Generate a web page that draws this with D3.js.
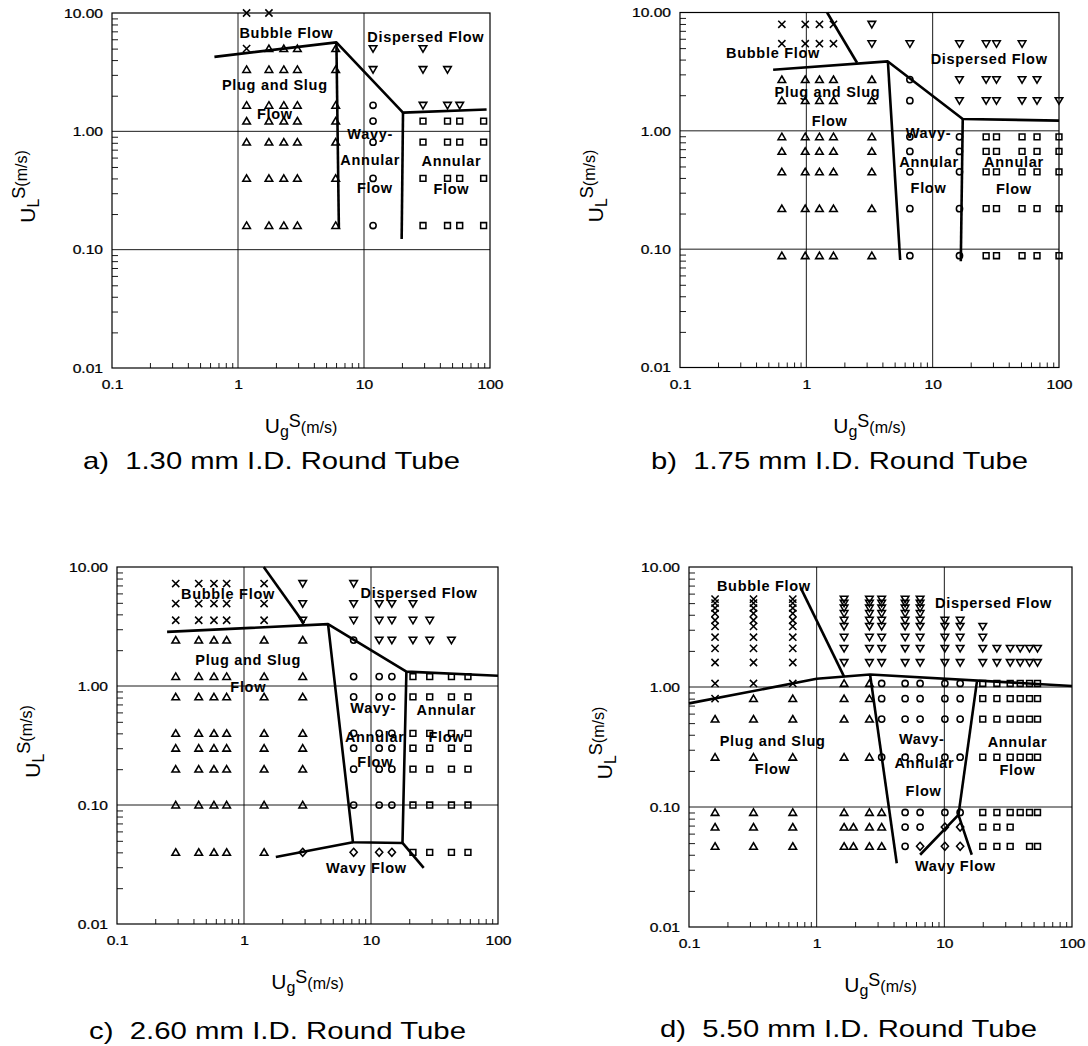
<!DOCTYPE html>
<html>
<head>
<meta charset="utf-8">
<script src="https://cdn.jsdelivr.net/npm/d3@7"></script>
<style>
  body { margin: 0; background: #fff; }
  svg { display: block; font-family: "Liberation Sans", Arial, Helvetica, sans-serif; }
</style>
</head>
<body>
<svg id="chart" width="1088" height="1046"></svg>
<script>
"use strict";

// ticks shared by the four maps
const xMajor = [0.1, 1, 10, 100];
const xTickLabels = ["0.1", "1", "10", "100"];
const yMajor = [0.01, 0.1, 1, 10];
const yTickLabels = ["0.01", "0.10", "1.00", "10.00"];
const captions = [
    "a)  1.30 mm I.D. Round Tube",
    "b)  1.75 mm I.D. Round Tube",
    "c)  2.60 mm I.D. Round Tube",
    "d)  5.50 mm I.D. Round Tube"
];

// observations: each row is [UL, [UG, UG, ...]]  (m/s)
// a) 1.30 mm
const aBubble = [[10, [1.17, 1.76]], [5.0, [1.17]]];
const aPlug = [
    [5.0, [1.76, 2.31, 2.96, 5.96]],
    [3.33, [1.17, 1.76, 2.31, 2.96, 5.96]],
    [1.66, [1.17, 1.76, 2.31, 2.96, 5.96]],
    [1.22, [1.17, 1.76, 2.31, 2.96, 5.96]],
    [0.81, [1.17, 1.76, 2.31, 2.96, 5.96]],
    [0.40, [1.17, 1.76, 2.31, 2.96, 5.96]],
    [0.16, [1.17, 1.76, 2.31, 2.96, 5.96]]
];
const aDispersed = [[5.0, [11.8, 29.4]], [3.33, [11.8, 29.4, 46]], [1.66, [29.4, 46, 57.5]]];
const aWavyAnnular = [[1.66, [11.8]], [1.22, [11.8]], [0.81, [11.8]], [0.40, [11.8]], [0.16, [11.8]]];
const aAnnular = [
    [1.22, [29.4, 46, 57.5, 89]],
    [0.81, [29.4, 46, 57.5, 89]],
    [0.40, [29.4, 46, 57.5, 89]],
    [0.16, [29.4, 46, 57.5, 89]]
];
const aLines = [
    [[0.65, 4.26], [6.04, 5.65], [20.4, 1.44], [94, 1.53]],
    [[6.04, 5.65], [6.32, 0.15]],
    [[20.4, 1.44], [19.9, 0.123]]
];

// b) 1.75 mm
const bBubble = [[7.95, [0.64, 0.98, 1.27, 1.64]], [5.45, [0.64, 0.98, 1.27, 1.64]]];
const bPlug = [
    [2.71, [0.64, 0.98, 1.27, 1.64, 3.3]],
    [1.80, [0.64, 0.98, 1.27, 1.64, 3.3]],
    [0.89, [0.64, 0.98, 1.27, 1.64, 3.3]],
    [0.67, [0.64, 0.98, 1.27, 1.64, 3.3]],
    [0.45, [0.64, 0.98, 1.27, 1.64, 3.3]],
    [0.22, [0.64, 0.98, 1.27, 1.64, 3.3]],
    [0.088, [0.64, 0.98, 1.27, 1.64, 3.3]]
];
const bDispersed = [
    [7.95, [3.3]],
    [5.45, [3.3, 6.6, 16.3, 26.5, 32, 51]],
    [2.71, [16.3, 26.5, 32, 51, 67]],
    [1.80, [16.3, 26.5, 32, 51, 67, 100]]
];
const bWavyAnnular = [
    [2.71, [6.6]], [1.80, [6.6]],
    [0.89, [6.6, 16.3]], [0.67, [6.6, 16.3]], [0.45, [6.6, 16.3]],
    [0.22, [6.6, 16.3]], [0.088, [6.6, 16.3]]
];
const bAnnular = [
    [0.89, [26.5, 32, 51, 67, 100]],
    [0.67, [26.5, 32, 51, 67, 100]],
    [0.45, [26.5, 32, 51, 67, 100]],
    [0.22, [26.5, 32, 51, 67, 100]],
    [0.088, [26.5, 32, 51, 67, 100]]
];
const bLines = [
    [[0.546, 3.28], [4.42, 3.86], [17.3, 1.26], [100, 1.22]],
    [[1.46, 10], [2.52, 3.76]],
    [[4.42, 3.86], [5.53, 0.081]],
    [[17.3, 1.26], [16.7, 0.079]]
];

// c) 2.60 mm
const cBubble = [
    [7.26, [0.29, 0.44, 0.58, 0.73, 1.44]],
    [4.93, [0.29, 0.44, 0.58, 0.73, 1.44]],
    [3.57, [0.29, 0.44, 0.58, 0.73, 1.44]]
];
const cPlug = [
    [2.43, [0.29, 0.44, 0.58, 0.73, 1.44, 2.9]],
    [1.20, [0.29, 0.44, 0.58, 0.73, 1.44, 2.9]],
    [0.81, [0.29, 0.44, 0.58, 0.73, 1.44, 2.9]],
    [0.40, [0.29, 0.44, 0.58, 0.73, 1.44, 2.9]],
    [0.30, [0.29, 0.44, 0.58, 0.73, 1.44, 2.9]],
    [0.20, [0.29, 0.44, 0.58, 0.73, 1.44, 2.9]],
    [0.10, [0.29, 0.44, 0.58, 0.73, 1.44, 2.9]],
    [0.04, [0.29, 0.44, 0.58, 0.73, 1.44]]
];
const cDispersed = [
    [7.26, [2.9, 7.3]],
    [4.93, [2.9, 7.3, 11.6, 14.6, 21.4]],
    [3.57, [2.9, 7.3, 11.6, 14.6, 21.4, 29]],
    [2.43, [11.6, 14.6, 21.4, 29, 43]]
];
const cWavyAnnular = [
    [2.43, [7.3]],
    [1.20, [7.3, 11.6, 14.6]],
    [0.81, [7.3, 11.6, 14.6]],
    [0.40, [7.3, 11.6, 14.6]],
    [0.30, [7.3, 11.6, 14.6]],
    [0.20, [7.3, 11.6, 14.6]],
    [0.10, [7.3, 11.6, 14.6]]
];
const cAnnular = [
    [1.20, [21.4, 29, 43, 58]],
    [0.81, [21.4, 29, 43, 58]],
    [0.40, [21.4, 29, 43, 58]],
    [0.30, [21.4, 29, 43, 58]],
    [0.20, [21.4, 29, 43, 58]],
    [0.10, [21.4, 29, 43, 58]],
    [0.04, [21.4, 29, 43, 58]]
];
const cWavy = [[0.04, [2.9, 7.3, 11.6, 14.6]]];
const cLines = [
    [[0.248, 2.85], [4.59, 3.31], [19, 1.32], [100, 1.22]],
    [[1.43, 10], [2.97, 3.35]],
    [[4.59, 3.31], [7.21, 0.0486], [17.7, 0.048], [19, 1.32]],
    [[1.78, 0.0366], [7.21, 0.0486]],
    [[17.7, 0.048], [26, 0.0296]]
];

// d) 5.50 mm
const dBubble = [
    [5.4, [0.16, 0.32, 0.65]], [5.0, [0.16, 0.32, 0.65]], [4.55, [0.16, 0.32, 0.65]],
    [4.1, [0.16, 0.32, 0.65]], [3.6, [0.16, 0.32, 0.65]], [3.2, [0.16, 0.32, 0.65]],
    [2.6, [0.16, 0.32, 0.65]], [2.1, [0.16, 0.32, 0.65]], [1.6, [0.16, 0.32, 0.65]],
    [1.07, [0.16, 0.32, 0.65]], [0.8, [0.16]]
];
const dPlug = [
    [1.07, [1.64, 2.59]],
    [0.8, [0.32, 0.65, 1.64, 2.59]],
    [0.54, [0.16, 0.32, 0.65, 1.64, 2.59]],
    [0.26, [0.16, 0.32, 0.65, 1.64, 2.59]],
    [0.09, [0.16, 0.32, 0.65, 1.64, 2.59, 3.23]],
    [0.068, [0.16, 0.32, 0.65, 1.64, 1.94, 2.59, 3.23]],
    [0.047, [0.16, 0.32, 0.65, 1.64, 1.94, 2.59, 3.23]]
];
const dDispersed = [
    [5.4, [1.64, 2.59, 3.23, 4.93, 6.46]],
    [5.0, [1.64, 2.59, 3.23, 4.93, 6.46]],
    [4.55, [1.64, 2.59, 3.23, 4.93, 6.46]],
    [4.1, [1.64, 2.59, 3.23, 4.93, 6.46]],
    [3.6, [1.64, 2.59, 3.23, 4.93, 6.46, 10.1, 13.3]],
    [3.2, [1.64, 2.59, 3.23, 4.93, 6.46, 10.1, 13.3, 20]],
    [2.6, [1.64, 2.59, 3.23, 4.93, 6.46, 10.1, 13.3, 20]],
    [2.1, [1.64, 2.59, 3.23, 4.93, 6.46, 10.1, 13.3, 20, 25.8, 32.8, 39.3, 46.5, 53.7]],
    [1.6, [1.64, 2.59, 3.23, 4.93, 6.46, 10.1, 13.3, 20, 25.8, 32.8, 39.3, 46.5, 53.7]]
];
const dWavyAnnular = [
    [1.07, [3.23, 4.93, 6.46, 10.1, 13.3]],
    [0.8, [3.23, 4.93, 6.46, 10.1, 13.3]],
    [0.54, [3.23, 4.93, 6.46, 10.1, 13.3]],
    [0.26, [3.23, 4.93, 6.46, 10.1, 13.3]],
    [0.09, [4.93, 6.46, 10.1, 13.3]],
    [0.068, [4.93, 6.46]],
    [0.047, [4.93]]
];
const dAnnular = [
    [1.07, [20, 25.8, 32.8, 39.3, 46.5, 53.7]],
    [0.8, [20, 25.8, 32.8, 39.3, 46.5, 53.7]],
    [0.54, [20, 25.8, 32.8, 39.3, 46.5, 53.7]],
    [0.26, [20, 25.8, 32.8, 39.3, 46.5, 53.7]],
    [0.09, [20, 25.8, 32.8, 39.3, 46.5, 53.7]],
    [0.068, [20, 25.8, 32.8]],
    [0.047, [20, 25.8, 32.8, 46.5, 53.7]]
];
const dWavy = [[0.068, [10.1, 13.3]], [0.047, [6.46, 10.1, 13.3]]];
const dLines = [
    [[0.1, 0.73], [1.0, 1.17], [2.62, 1.27], [100, 1.02]],
    [[0.75, 6.7], [1.64, 1.22]],
    [[2.62, 1.27], [4.24, 0.034]],
    [[18, 1.11], [12.9, 0.086]],
    [[6.46, 0.040], [12.9, 0.086], [16.4, 0.040]]
];

// panel placement and region labels (label anchors in UG, UL)
const panels = [
    {
        left: 112, top: 13, w: 378, h: 355, capX: 83, capY: 469, caption: captions[0],
        points: { bubble: aBubble, plug: aPlug, dispersed: aDispersed, wavyAnnular: aWavyAnnular, annular: aAnnular },
        lines: aLines,
        labels: [
            ["Bubble Flow", 2.42, 6.73], ["Dispersed Flow", 30.9, 6.22],
            ["Plug and Slug", 1.96, 2.45], ["Flow", 1.96, 1.41],
            ["Wavy-", 11.2, 0.956], ["Annular", 11.2, 0.568], ["Flow", 12.2, 0.331],
            ["Annular", 49.4, 0.557], ["Flow", 49.4, 0.327]
        ]
    },
    {
        left: 680, top: 12.5, w: 379, h: 355, capX: 651, capY: 469, caption: captions[1],
        points: { bubble: bBubble, plug: bPlug, dispersed: bDispersed, wavyAnnular: bWavyAnnular, annular: bAnnular },
        lines: bLines,
        labels: [
            ["Bubble Flow", 0.545, 4.54], ["Dispersed Flow", 28, 4.07],
            ["Plug and Slug", 1.47, 2.12], ["Flow", 1.53, 1.22],
            ["Wavy-", 9.27, 0.967], ["Annular", 9.37, 0.545], ["Flow", 9.27, 0.33],
            ["Annular", 44, 0.545], ["Flow", 44, 0.32]
        ]
    },
    {
        left: 117, top: 567, w: 381, h: 357, capX: 89, capY: 1039, caption: captions[2],
        points: { bubble: cBubble, plug: cPlug, dispersed: cDispersed, wavyAnnular: cWavyAnnular, annular: cAnnular, wavy: cWavy },
        lines: cLines,
        labels: [
            ["Bubble Flow", 0.748, 5.98], ["Dispersed Flow", 23.9, 6.1],
            ["Plug and Slug", 1.08, 1.65], ["Flow", 1.08, 0.987],
            ["Wavy-", 10.4, 0.65], ["Annular", 10.7, 0.376], ["Flow", 10.8, 0.229],
            ["Annular", 39.2, 0.629], ["Flow", 39.2, 0.376],
            ["Wavy Flow", 9.2, 0.0296]
        ]
    },
    {
        left: 689, top: 567, w: 383, h: 360, capX: 660, capY: 1037, caption: captions[3],
        points: { bubble: dBubble, plug: dPlug, dispersed: dDispersed, wavyAnnular: dWavyAnnular, annular: dAnnular, wavy: dWavy },
        lines: dLines,
        labels: [
            ["Bubble Flow", 0.386, 6.98], ["Dispersed Flow", 24.3, 5.01],
            ["Plug and Slug", 0.452, 0.352], ["Flow", 0.452, 0.207],
            ["Wavy-", 6.66, 0.369], ["Annular", 6.98, 0.233], ["Flow", 6.87, 0.135],
            ["Annular", 37.4, 0.345], ["Flow", 37.4, 0.205],
            ["Wavy Flow", 12.2, 0.032]
        ]
    }
];

// open marker for each regime
const markerPath = {
    bubble: "M-3.6,-3.6L3.6,3.6M3.6,-3.6L-3.6,3.6",
    plug: "M0,-3.6L3.8,2.9L-3.8,2.9Z",
    dispersed: "M0,3.6L3.8,-2.9L-3.8,-2.9Z",
    wavyAnnular: "M3.1,0A3.1,3.1 0 1,1 -3.1,0A3.1,3.1 0 1,1 3.1,0Z",
    annular: "M-2.9,-2.9H2.9V2.9H-2.9Z",
    wavy: "M0,-4L3.6,0L0,4L-3.6,0Z"
};

const svg = d3.select("#chart");
panels.forEach(renderPanel);

// helper fn: rows -> flat list of points
function expand(rows) {
    return rows.flatMap(([uL, uGs]) => uGs.map((uG) => ({ uG: uG, uL: uL })));
}

function renderPanel(p) {
    const x = d3.scaleLog().domain([0.1, 100]).range([0, p.w]);
    const y = d3.scaleLog().domain([0.01, 10]).range([p.h, 0]);
    const g = svg.append("g")
        .attr("transform", `translate(${p.left},${p.top})`);

    // decade grid
    g.selectAll(".gx").data(xMajor.slice(1, -1)).enter()
        .append("line")
        .attr("x1", (d) => x(d)).attr("x2", (d) => x(d))
        .attr("y1", 0).attr("y2", p.h)
        .attr("stroke", "#000").attr("stroke-width", 0.9);
    g.selectAll(".gy").data(yMajor.slice(1, -1)).enter()
        .append("line")
        .attr("y1", (d) => y(d)).attr("y2", (d) => y(d))
        .attr("x1", 0).attr("x2", p.w)
        .attr("stroke", "#000").attr("stroke-width", 0.9);

    // minor ticks pointing inward
    const minorX = x.ticks().filter((t) => !xMajor.some((m) => Math.abs(m - t) < 1e-9));
    const minorY = y.ticks().filter((t) => !yMajor.some((m) => Math.abs(m - t) < 1e-9));
    const minorXAxis = g.append("g")
        .attr("transform", `translate(0,${p.h})`)
        .call(d3.axisBottom(x).tickValues(minorX).tickSize(-5).tickFormat(""));
    const minorYAxis = g.append("g")
        .call(d3.axisLeft(y).tickValues(minorY).tickSize(-6).tickFormat(""));
    [minorXAxis, minorYAxis].forEach((a) => {
        a.select(".domain").remove();
        a.selectAll("line").attr("stroke", "#000").attr("stroke-width", 0.9);
    });

    // tick labels (the scan is wide, so stretch them a bit)
    const xAxis = g.append("g")
        .attr("transform", `translate(0,${p.h})`)
        .call(d3.axisBottom(x).tickValues(xMajor)
            .tickFormat((d, i) => xTickLabels[i]).tickSize(0).tickPadding(12));
    const yAxis = g.append("g")
        .call(d3.axisLeft(y).tickValues(yMajor)
            .tickFormat((d, i) => yTickLabels[i]).tickSize(0).tickPadding(7.5));
    [xAxis, yAxis].forEach((a) => {
        a.select(".domain").remove();
        a.selectAll("text")
            .attr("font-family", "Liberation Sans, Arial, sans-serif")
            .attr("font-size", 13)
            .attr("transform", "scale(1.2,1)")
            .attr("fill", "#000")
            .attr("stroke", "#000")
            .attr("stroke-width", 0.25);
    });

    // frame
    g.append("rect")
        .attr("width", p.w).attr("height", p.h)
        .attr("fill", "none").attr("stroke", "#000").attr("stroke-width", 1.2);

    // observations
    Object.keys(p.points).forEach((regime) => {
        g.selectAll(`.m-${regime}`)
            .data(expand(p.points[regime]))
            .enter().append("path")
            .attr("class", `m-${regime}`)
            .attr("transform", (d) => `translate(${x(d.uG)},${y(d.uL)})`)
            .attr("d", markerPath[regime])
            .attr("fill", "none")
            .attr("stroke", "#000")
            .attr("stroke-width", 1.55);
    });

    // regime boundaries
    const line = d3.line().x((d) => x(d[0])).y((d) => y(d[1]));
    g.selectAll(".boundary").data(p.lines).enter()
        .append("path")
        .attr("class", "boundary")
        .attr("d", line)
        .attr("fill", "none")
        .attr("stroke", "#000")
        .attr("stroke-width", 2.6)
        .attr("stroke-linejoin", "round");

    // region names
    g.selectAll(".region").data(p.labels).enter()
        .append("text")
        .attr("class", "region")
        .attr("x", (d) => x(d[1]))
        .attr("y", (d) => y(d[2]))
        .attr("text-anchor", "middle")
        .attr("dominant-baseline", "central")
        .attr("font-size", 14.5)
        .attr("font-weight", "bold")
        .attr("letter-spacing", 0.7)
        .text((d) => d[0]);

    // axis titles
    const xt = g.append("text")
        .attr("x", p.w / 2)
        .attr("y", p.h + 65)
        .attr("text-anchor", "middle");
    xt.append("tspan").attr("font-size", 21).text("U");
    xt.append("tspan").attr("font-size", 16).attr("dy", 4).text("g");
    xt.append("tspan").attr("font-size", 18).attr("dy", -10).text("S");
    xt.append("tspan").attr("font-size", 16).attr("dy", 6).text("(m/s)");

    const yt = g.append("text")
        .attr("transform", `translate(-77,${p.h / 2 - 4}) rotate(-90)`)
        .attr("text-anchor", "middle");
    yt.append("tspan").attr("font-size", 21).text("U");
    yt.append("tspan").attr("font-size", 16).attr("dy", 4).text("L");
    yt.append("tspan").attr("font-size", 18).attr("dy", -14).text("S");
    yt.append("tspan").attr("font-size", 16).attr("dy", 2).text("(m/s)");

    // caption
    svg.append("text")
        .attr("x", p.capX)
        .attr("y", p.capY)
        .attr("font-size", 24)
        .attr("textLength", 377)
        .attr("lengthAdjust", "spacingAndGlyphs")
        .attr("xml:space", "preserve")
        .style("white-space", "pre")
        .text(p.caption);
}
</script>
</body>
</html>
